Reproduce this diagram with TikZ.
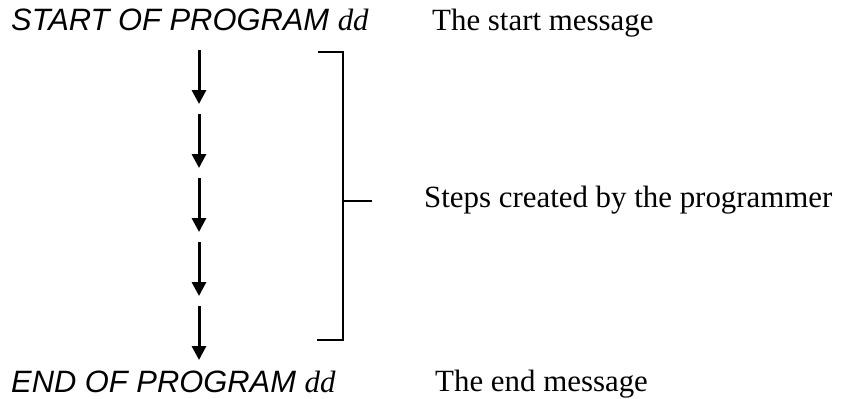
\documentclass[tikz,border=0pt]{standalone}
\usepackage{fontspec}
\setmainfont{Liberation Serif}
\setsansfont{Liberation Sans}
\usetikzlibrary{arrows.meta}
\tikzset{
  steparrow/.style={line width=3bp, -{Triangle[width=14bp,length=14bp]}},
  brace/.style={line width=1.8bp},
  msgtext/.style={inner sep=0pt, anchor=base west, font=\fontsize{31}{36}\selectfont}
}

\begin{document}
\begin{tikzpicture}[x=1bp, y=-1bp]
\newcommand{\arrx}{199}
\newcommand{\brx}{343}
\useasboundingbox (0,0) rectangle (847,398);
% program messages on the left, comments on the right
\node[msgtext] (start) at (11,30) {\sffamily\itshape START OF PROGRAM \rmfamily dd};
\node[msgtext] (startmsg) at (432,30) {The start message};
\node[msgtext] (end) at (11,392) {\sffamily\itshape END OF PROGRAM \rmfamily dd};
\node[msgtext] (endmsg) at (435,391) {The end message};
% the steps
\foreach \i in {0,...,4} {
  \pgfmathsetmacro{\ytop}{50+64*\i}
  \coordinate (top\i) at (\arrx,\ytop);
  \coordinate (tip\i) at (\arrx,\ytop+54);
  \draw[steparrow] (top\i) -- (tip\i);
}
% bracket round the steps
\coordinate (btop) at (318,52);
\coordinate (bbot) at (317,340);
\coordinate (tick) at (372,201);
\draw[brace] (btop) -| (\brx,340) -- (bbot);
\draw[brace] (\brx,201) -- (tick);
\node[msgtext] (steps) at (424,207) {Steps created by the programmer};
\end{tikzpicture}
\end{document}
